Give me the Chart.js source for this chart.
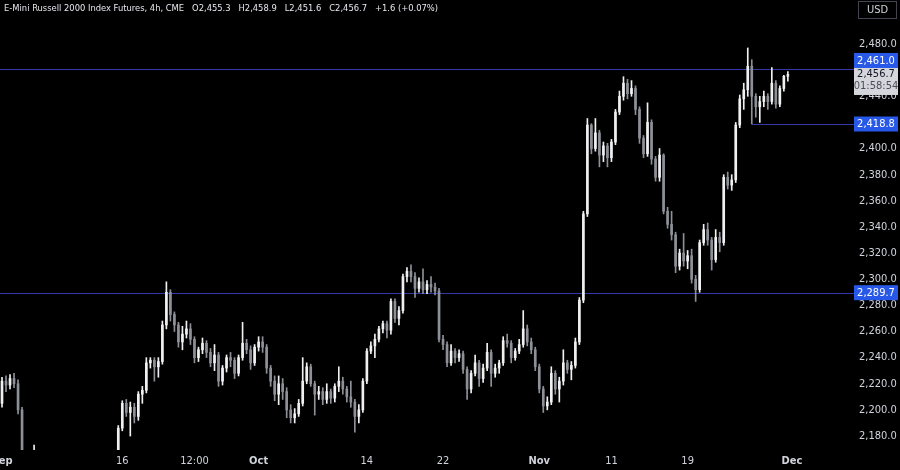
<!DOCTYPE html>
<html>
<head>
<meta charset="utf-8">
<script src="https://cdn.jsdelivr.net/npm/chart.js@4.4.1/dist/chart.umd.min.js"></script>
<style>
  html, body { margin: 0; padding: 0; background: #000; }
  #wrap { width: 900px; height: 470px; position: relative; }
</style>
</head>
<body>
<div id="wrap"><canvas id="chart"></canvas></div>
<script>
// 4h candles (oldest first)
const opens = [
  2205,2222,2219,2224,2220,2200,2165,2158,2150,2155,2148,2140,2135,2128,2120,2112,2105,2098,2104,2112,
  2118,2108,2095,2110,2125,2138,2145,2150,2156,2162,2186,2205,2198,2202,2195,2212,2215,2236,2238,2233,
  2237,2265,2290,2273,2265,2252,2258,2262,2254,2240,2246,2251,2244,2236,2242,2222,2232,2240,2238,2228,
  2240,2251,2246,2236,2248,2252,2248,2232,2222,2212,2220,2214,2200,2194,2197,2205,2222,2233,2220,2212,
  2214,2208,2214,2209,2218,2222,2216,2210,2206,2195,2200,2222,2245,2249,2254,2262,2266,2261,2283,2270,
  2276,2302,2306,2302,2293,2298,2292,2296,2294,2291,2254,2250,2236,2245,2240,2243,2231,2216,2228,2236,
  2224,2232,2244,2228,2232,2236,2253,2251,2240,2245,2250,2262,2252,2246,2233,2216,2203,2206,2228,2216,
  2222,2236,2231,2234,2252,2284,2350,2418,2400,2412,2395,2402,2393,2405,2428,2440,2450,2442,2446,2430,
  2408,2396,2420,2392,2378,2395,2352,2342,2334,2310,2320,2314,2318,2300,2292,2328,2338,2330,2315,2332,
  2328,2378,2372,2376,2418,2438,2445,2463,2440,2432,2436,2440,2436,2450,2434,2446,2455.3
];
const highs = [
  2225,2226,2227,2228,2223,2202,2168,2162,2173,2158,2152,2144,2139,2132,2124,2116,2108,2108,2115,2122,
  2121,2112,2113,2128,2141,2148,2153,2159,2165,2188,2207,2208,2206,2205,2214,2218,2240,2240,2240,2240,
  2268,2298,2292,2275,2267,2264,2268,2266,2256,2248,2255,2253,2247,2250,2244,2234,2242,2244,2240,2242,
  2267,2254,2249,2250,2256,2256,2250,2234,2226,2226,2224,2217,2204,2201,2208,2240,2236,2235,2222,2218,
  2217,2220,2216,2220,2233,2225,2218,2222,2208,2204,2224,2247,2252,2258,2264,2268,2268,2285,2285,2279,
  2304,2309,2311,2305,2301,2308,2299,2302,2297,2293,2257,2252,2250,2247,2246,2245,2233,2230,2242,2238,
  2235,2251,2246,2235,2238,2256,2258,2253,2247,2254,2276,2265,2255,2248,2235,2218,2210,2233,2230,2225,
  2246,2238,2237,2255,2286,2352,2423,2419,2423,2414,2405,2404,2407,2430,2444,2455,2453,2452,2448,2432,
  2410,2435,2422,2394,2400,2396,2355,2352,2336,2323,2335,2322,2323,2303,2330,2342,2343,2332,2338,2336,
  2380,2382,2380,2420,2441,2450,2477,2468,2442,2440,2444,2442,2462,2452,2448,2456,2458.9
];
const lows = [
  2202,2214,2216,2217,2197,2160,2150,2145,2146,2145,2136,2130,2124,2116,2108,2100,2092,2095,2100,2108,
  2104,2090,2092,2106,2122,2134,2141,2146,2152,2160,2184,2195,2180,2190,2192,2205,2213,2232,2222,2225,
  2235,2262,2268,2260,2248,2246,2255,2250,2236,2237,2243,2240,2233,2230,2218,2219,2229,2233,2224,2226,
  2238,2243,2231,2234,2245,2244,2228,2218,2207,2204,2208,2194,2190,2190,2195,2203,2220,2218,2196,2208,
  2204,2205,2205,2206,2214,2212,2206,2202,2183,2190,2198,2220,2243,2240,2252,2259,2255,2258,2267,2265,
  2274,2298,2298,2286,2290,2289,2289,2290,2288,2252,2246,2233,2234,2236,2237,2228,2208,2213,2226,2218,
  2221,2230,2218,2225,2228,2234,2248,2236,2238,2243,2248,2249,2243,2230,2213,2198,2200,2204,2212,2206,
  2219,2228,2223,2232,2250,2282,2348,2396,2398,2386,2390,2386,2390,2403,2426,2437,2438,2440,2426,2404,
  2393,2394,2388,2375,2375,2350,2339,2330,2305,2307,2310,2308,2297,2283,2290,2326,2326,2307,2313,2321,
  2326,2369,2368,2374,2416,2430,2440,2418.8,2424,2420,2432,2430,2434,2431,2432,2444,2451.6
];
const closes = [
  2222,2219,2224,2220,2200,2165,2158,2150,2155,2148,2140,2135,2128,2120,2112,2105,2098,2104,2112,2118,
  2108,2095,2110,2125,2138,2145,2150,2156,2162,2186,2205,2198,2202,2195,2212,2215,2236,2238,2233,2237,
  2265,2290,2273,2265,2252,2258,2262,2254,2240,2246,2251,2244,2236,2242,2222,2232,2240,2238,2228,2240,
  2251,2246,2236,2248,2252,2248,2232,2222,2212,2220,2214,2200,2194,2197,2205,2222,2233,2220,2212,2214,
  2208,2214,2209,2218,2222,2216,2210,2206,2195,2200,2222,2245,2249,2254,2262,2266,2261,2283,2270,2276,
  2302,2306,2302,2293,2298,2292,2296,2294,2291,2254,2250,2236,2245,2240,2243,2231,2216,2228,2236,2224,
  2232,2244,2228,2232,2236,2253,2251,2240,2245,2250,2262,2252,2246,2233,2216,2203,2206,2228,2216,2222,
  2236,2231,2234,2252,2284,2350,2418,2400,2412,2395,2402,2393,2405,2428,2440,2450,2442,2446,2430,2408,
  2396,2420,2392,2378,2395,2352,2342,2334,2310,2320,2314,2318,2300,2292,2328,2338,2330,2315,2332,2328,
  2378,2372,2376,2418,2438,2445,2463,2440,2432,2436,2440,2436,2450,2434,2446,2455.3,2456.7
];

// time axis: bar slots (incl. empty future space) and where the labels sit
const slotCount = 211;
const xLabelIndex = [0, 30, 48, 64, 91, 110, 134, 152, 171, 197];
const xLabelText = ['Sep', '16', '12:00', 'Oct', '14', '22', 'Nov', '11', '19', 'Dec'];
const monthLabels = ['Sep', 'Oct', 'Nov', 'Dec'];

// price axis
const yTicks = [2180, 2200, 2220, 2240, 2260, 2280, 2300, 2320, 2340, 2360, 2380, 2400, 2420, 2440, 2460, 2480];
const yMin = 2169.3;
const yMax = 2513.7;

// horizontal levels drawn on the chart (start bar, null = from left edge)
const levelValues = [2461.0, 2418.8, 2289.7];
const levelFrom = [null, 187, null];

const symbolTitle = 'E-Mini Russell 2000 Index Futures, 4h, CME';
const changeText = '+1.6 (+0.07%)';
const countdown = '01:58:54';

const FONT = '"Liberation Sans Narrow", "DejaVu Sans Condensed", "Liberation Sans", sans-serif';
const upColor = '#f0f0f0';
const downColor = '#8d9099';
const levelColor = '#3238a8';
const boxBlue = '#2758e8';

const fmt = v => v.toLocaleString('en-US', { minimumFractionDigits: 1, maximumFractionDigits: 1 });

const slotLabels = Array.from({ length: slotCount }, (_, i) => {
    const k = xLabelIndex.indexOf(i);
    return k >= 0 ? xLabelText[k] : '';
});
const candleColors = slotLabels.map((_, i) => i < closes.length && closes[i] < opens[i] ? downColor : upColor);
const wickData = slotLabels.map((_, i) => i < closes.length ? [lows[i], highs[i]] : null);
const bodyData = slotLabels.map((_, i) => i < closes.length ? [opens[i], closes[i]] : null);

// Overlay: levels, axis price boxes, header
const overlay = {
    id: 'overlay',
    beforeDatasetsDraw(chart) {
        const { ctx, chartArea, scales: { x, y } } = chart;
        ctx.save();
        ctx.strokeStyle = levelColor;
        ctx.lineWidth = 1;
        levelValues.forEach((v, k) => {
            const py = Math.round(y.getPixelForValue(v)) + 0.5;
            const px = levelFrom[k] == null ? chartArea.left : x.getPixelForValue(levelFrom[k]);
            ctx.beginPath();
            ctx.moveTo(px, py);
            ctx.lineTo(chartArea.right + 8, py);
            ctx.stroke();
        });
        ctx.restore();
    },
    afterDraw(chart) {
        const { ctx, chartArea, scales: { y } } = chart;
        const boxL = chartArea.right + 8;
        const boxW = 44;
        const last = closes.length - 1;
        const lastY = y.getPixelForValue(closes[last]);

        ctx.save();
        ctx.font = '11px ' + FONT;
        ctx.textAlign = 'center';
        ctx.textBaseline = 'middle';

        // last price + countdown
        ctx.fillStyle = '#d4d6dc';
        ctx.fillRect(boxL, lastY - 7.5, boxW, 28);
        ctx.fillStyle = '#131722';
        ctx.fillText(fmt(closes[last]), boxL + boxW / 2, lastY);
        ctx.fillStyle = '#4a4d57';
        ctx.fillText(countdown, boxL + boxW / 2, lastY + 12);

        // level boxes
        levelValues.forEach(v => {
            let cy = y.getPixelForValue(v);
            if (cy + 7.5 > lastY - 7.5 && cy - 7.5 < lastY + 20.5) cy = lastY - 14;
            ctx.fillStyle = boxBlue;
            ctx.fillRect(boxL, cy - 7.5, boxW, 15);
            ctx.fillStyle = '#ffffff';
            ctx.fillText(fmt(v), boxL + boxW / 2, cy + 0.5);
        });

        // currency box
        ctx.strokeStyle = '#434651';
        ctx.lineWidth = 1;
        ctx.strokeRect(858.5, 1.5, 38, 17);
        ctx.fillStyle = '#d1d4dc';
        ctx.fillText('USD', 877.5, 10.5);

        // header line
        const parts = [symbolTitle, 'O' + fmt(opens[last]), 'H' + fmt(highs[last]),
                       'L' + fmt(lows[last]), 'C' + fmt(closes[last]), changeText];
        let size = 12;
        ctx.font = size + 'px ' + FONT;
        const full = ctx.measureText(parts.join('   ')).width;
        size = size * 434 / full;
        ctx.font = size.toFixed(2) + 'px ' + FONT;
        ctx.textAlign = 'left';
        ctx.fillStyle = '#e6e8ee';
        ctx.fillText(parts.join('   '), 4, 8.5);
        ctx.restore();
    }
};

new Chart(document.getElementById('chart'), {
    type: 'bar',
    data: {
        labels: slotLabels,
        datasets: [
            {
                label: 'body',
                data: bodyData,
                backgroundColor: candleColors,
                barThickness: 2,
                minBarLength: 1,
                grouped: false,
                order: 0
            },
            {
                label: 'wick',
                data: wickData,
                backgroundColor: candleColors,
                barThickness: 1,
                grouped: false,
                order: 1
            }
        ]
    },
    options: {
        responsive: true,
        maintainAspectRatio: false,
        animation: false,
        layout: { padding: 0 },
        plugins: { legend: { display: false }, tooltip: { enabled: false } },
        scales: {
            x: {
                type: 'category',
                offset: true,
                grid: { display: false, drawTicks: false },
                border: { display: false },
                ticks: {
                    autoSkip: false,
                    maxRotation: 0,
                    padding: 5,
                    color: '#d1d4dc',
                    font: ctx => ({
                        family: FONT,
                        size: 11,
                        weight: monthLabels.includes(slotLabels[ctx.tick ? ctx.tick.value : 0]) ? 'bold' : 'normal'
                    })
                },
                afterBuildTicks: scale => {
                    scale.ticks = scale.ticks.filter(t => slotLabels[t.value] !== '');
                },
                afterFit: scale => {
                    scale.height = 20;
                    scale.paddingLeft = 0;
                    scale.paddingRight = 0;
                }
            },
            y: {
                position: 'right',
                min: yMin,
                max: yMax,
                grid: { display: false, drawTicks: false },
                border: { display: false },
                ticks: {
                    padding: 13,
                    color: '#d1d4dc',
                    font: { family: FONT, size: 11 },
                    callback: v => fmt(v)
                },
                afterBuildTicks: scale => {
                    scale.ticks = yTicks.map(v => ({ value: v }));
                },
                afterFit: scale => {
                    scale.width = 54;
                    scale.paddingTop = 0;
                    scale.paddingBottom = 0;
                }
            }
        }
    },
    plugins: [overlay]
});
</script>
</body>
</html>
